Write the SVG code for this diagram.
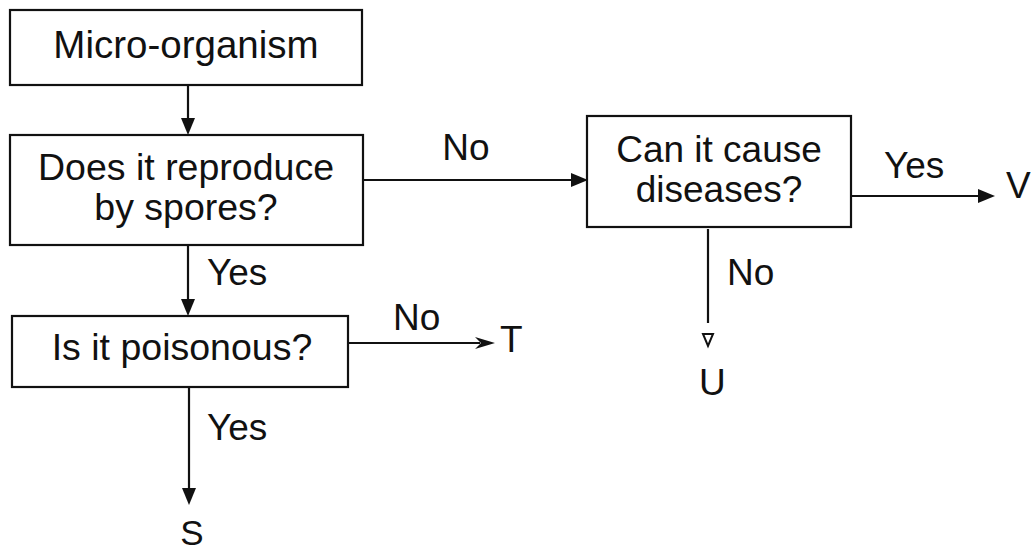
<svg xmlns="http://www.w3.org/2000/svg" width="1034" height="550" viewBox="0 0 1034 550">
<style>
.box{fill:#fff;stroke:#111;stroke-width:2.2}
.t{font-family:"Liberation Sans",Arial,sans-serif;font-size:37px;fill:#111}
.m{text-anchor:middle}
.ln{stroke:#111;stroke-width:2.2;fill:none}
.ah{fill:#111}
</style>
<rect width="1034" height="550" fill="#fff"/>
<g id="connectors">
  <line class="ln" x1="188" y1="85" x2="188" y2="122"/>
  <polygon class="ah" points="181,118 195,118 188,135"/>
  <line class="ln" x1="363" y1="180" x2="575" y2="180"/>
  <polygon class="ah" points="571,173 571,187 588,180"/>
  <text class="t m" x="466" y="160">No</text>
  <line class="ln" x1="188" y1="245" x2="188" y2="302"/>
  <polygon class="ah" points="181,299 195,299 188,316"/>
  <text class="t" x="207" y="285">Yes</text>
  <line class="ln" x1="348" y1="343" x2="480" y2="343"/>
  <polygon class="ah" points="475,337 481,343 475,349 495,343"/>
  <text class="t" x="393" y="330">No</text>
  <line class="ln" x1="189" y1="387" x2="189" y2="492"/>
  <polygon class="ah" points="182,488 196,488 189,505"/>
  <text class="t" x="207" y="440">Yes</text>
  <line class="ln" x1="851" y1="196" x2="982" y2="196"/>
  <polygon class="ah" points="978,189 978,203 995,196"/>
  <text class="t" x="884" y="178">Yes</text>
  <line class="ln" x1="708" y1="229" x2="708" y2="323"/>
  <polygon fill="none" stroke="#111" stroke-width="2" points="703,334 713,334 708,346"/>
  <text class="t" x="727" y="285">No</text>
</g>
<g id="node-micro">
  <rect class="box" x="10" y="10" width="352" height="75"/>
  <text class="t m" x="186" y="58" style="font-size:38.5px">Micro-organism</text>
</g>
<g id="node-spores">
  <rect class="box" x="10" y="135" width="353" height="110"/>
  <text class="t m" x="186" y="180" style="font-size:37.5px">Does it reproduce</text>
  <text class="t m" x="186" y="220" style="font-size:37.5px">by spores?</text>
</g>
<g id="node-poison">
  <rect class="box" x="12" y="316" width="336" height="71"/>
  <text class="t m" x="182" y="360" style="font-size:37.5px">Is it poisonous?</text>
</g>
<g id="node-disease">
  <rect class="box" x="587" y="116" width="264" height="111"/>
  <text class="t m" x="719" y="162">Can it cause</text>
  <text class="t m" x="719" y="202">diseases?</text>
</g>
<g id="node-S"><text class="t m" x="192" y="545" style="font-size:35px">S</text></g>
<g id="node-T"><text class="t" x="500" y="352">T</text></g>
<g id="node-U"><text class="t" x="699" y="395">U</text></g>
<g id="node-V"><text class="t" x="1006" y="198">V</text></g>
</svg>
